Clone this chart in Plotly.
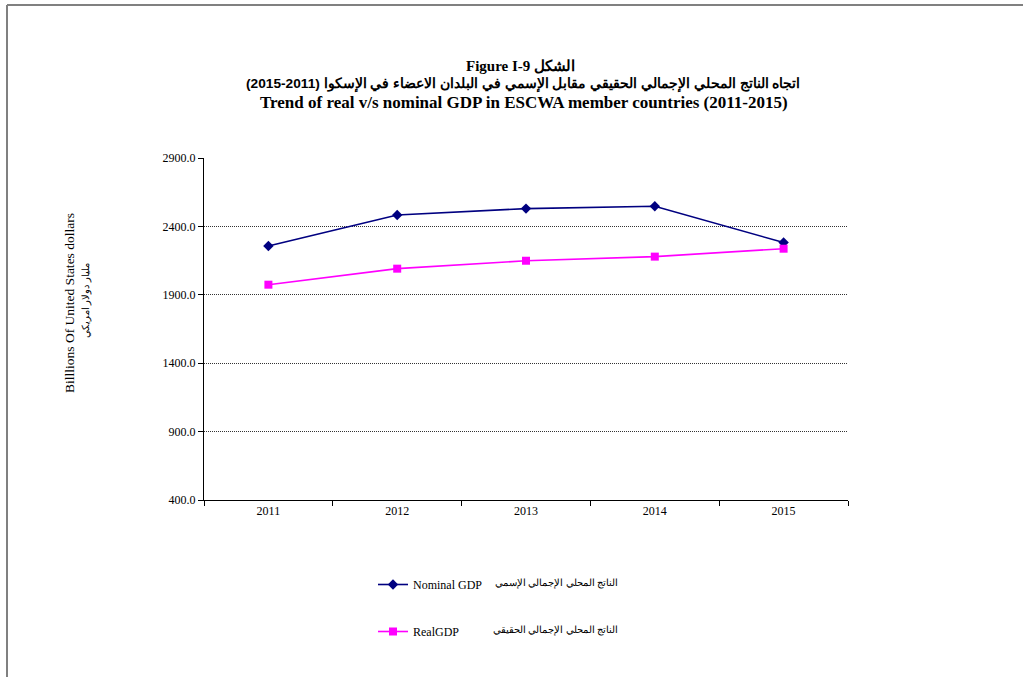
"""
Trend of real vs nominal GDP in ESCWA member countries (2011-2015).
"""
import plotly.graph_objects as go

# --- DATA ---
YEARS = ["2011", "2012", "2013", "2014", "2015"]
NOMINAL_GDP = [2257, 2483, 2530, 2547, 2282]
REAL_GDP = [1974, 2091, 2149, 2179, 2237]
Y_TICKS = [400, 900, 1400, 1900, 2400, 2900]

SERIF = "Liberation Serif, Times New Roman, serif"
SANS = "Liberation Sans, Arial, sans-serif"

# Plot area in pixels: x 204..848, y 158..500
L, R, T, B = 204, 175, 158, 177
PW, PH = 1023 - L - R, 677 - T - B


def px_x(x):
    return (x - L) / PW


def px_y(y):
    return (677 - B - y) / PH


fig = go.Figure()

fig.add_trace(go.Scatter(
    x=YEARS, y=NOMINAL_GDP, mode='lines+markers', name='Nominal GDP',
    line=dict(color='#000080', width=1.6),
    marker=dict(symbol='diamond', size=8, color='#000080'),
    legendgroup='a'
))
fig.add_trace(go.Scatter(
    x=YEARS, y=REAL_GDP, mode='lines+markers', name='RealGDP',
    line=dict(color='#FF00FF', width=1.6),
    marker=dict(symbol='square', size=8, color='#FF00FF'),
    legendgroup='b'
))

annotations = [
    dict(text="<b>Figure I-9 </b><b><span style='font-family:Liberation Sans'>الشكل</span></b>",
         x=px_x(520), y=px_y(65), font=dict(family=SERIF, size=15)),
    dict(text="<b>اتجاه الناتج المحلي الإجمالي الحقيقي مقابل الإسمي في البلدان الاعضاء في الإسكوا (2011-2015)</b>",
         x=px_x(523), y=px_y(84), font=dict(family=SANS, size=13.7)),
    dict(text="<b>Trend of real v/s nominal GDP in ESCWA member countries (2011-2015)</b>",
         x=px_x(524), y=px_y(102), font=dict(family=SERIF, size=17)),
    dict(text="Billlions Of United States dollars",
         x=px_x(69), y=px_y(303), textangle=-90, font=dict(family=SERIF, size=13.5)),
    dict(text="مليار دولار امريكي",
         x=px_x(86), y=px_y(300), textangle=-90, font=dict(family=SERIF, size=10)),
    dict(text="الناتج المحلي الإجمالي الإسمي", x=px_x(620), y=px_y(583), xanchor='right',
         font=dict(family=SERIF, size=9.5)),
    dict(text="الناتج المحلي الإجمالي الحقيقي", x=px_x(620), y=px_y(630), xanchor='right',
         font=dict(family=SERIF, size=9.5)),
]
for a in annotations:
    a.setdefault('xanchor', 'center')
    a.update(xref='paper', yref='paper', yanchor='middle', showarrow=False)

fig.update_layout(
    width=1023, height=677,
    margin=dict(l=L, r=R, t=T, b=B),
    plot_bgcolor='white', paper_bgcolor='white',
    font=dict(family=SERIF, size=12, color='black'),
    showlegend=True,
    legend=dict(
        x=px_x(373), y=px_y(570), xanchor='left', yanchor='top',
        font=dict(family=SERIF, size=12), tracegroupgap=28,
        bgcolor='rgba(0,0,0,0)', itemwidth=30
    ),
    annotations=annotations,
    shapes=[
        dict(type='line', xref='paper', yref='paper', x0=px_x(7), x1=px_x(1023),
             y0=px_y(5), y1=px_y(5), line=dict(color='#808080', width=2)),
        dict(type='line', xref='paper', yref='paper', x0=px_x(7), x1=px_x(7),
             y0=px_y(5), y1=px_y(677), line=dict(color='#808080', width=2)),
    ],
)

fig.update_yaxes(
    range=[400, 2900], tickvals=Y_TICKS, tickformat='.1f',
    showgrid=True, gridcolor='#333333', gridwidth=1, griddash='1px,1px',
    showline=True, linecolor='black', linewidth=1,
    ticks='outside', ticklen=5, tickcolor='black',
    tickfont=dict(family=SERIF, size=12), zeroline=False
)
fig.update_xaxes(
    type='category', range=[-0.5, 4.5],
    showgrid=False, showline=True, linecolor='black', linewidth=1,
    ticks='outside', ticklen=5, tickcolor='black', tickson='boundaries',
    tickfont=dict(family=SERIF, size=12)
)

# remove the default page margin so the chart sits at the window origin
fig.write_html("out.html", config={'displayModeBar': False},
               post_script="document.body.style.margin='0';")
